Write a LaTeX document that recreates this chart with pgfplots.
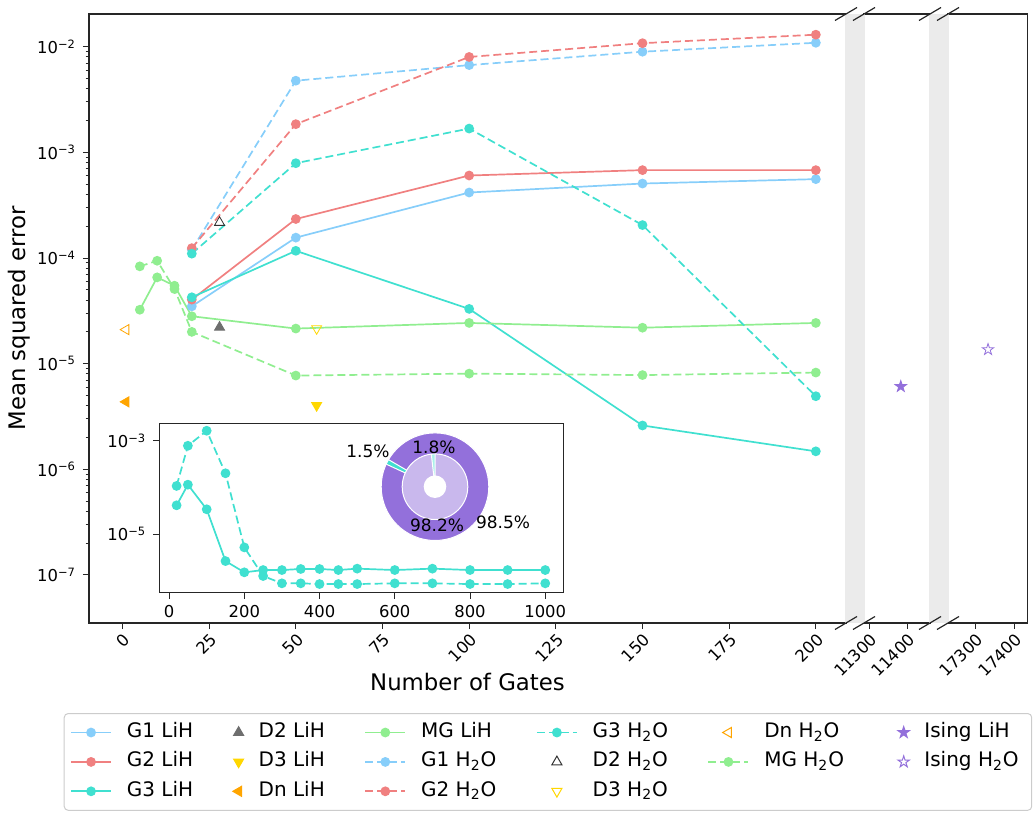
\documentclass[border=0pt]{standalone}
\usepackage{pgfplots}
\pgfplotsset{compat=1.18}
\usepackage{fontspec}
\setmainfont{DejaVu Sans}
\usetikzlibrary{plotmarks}

\definecolor{cG1}{HTML}{87CEFA}
\definecolor{cG2}{HTML}{F08080}
\definecolor{cG3}{HTML}{40E0D0}
\definecolor{cMG}{HTML}{90EE90}
\definecolor{cD2}{HTML}{6E6E6E}
\definecolor{cD2o}{HTML}{333333}
\definecolor{cD3}{HTML}{FFD700}
\definecolor{cDn}{HTML}{FFA500}
\definecolor{cIs}{HTML}{9370DB}
\definecolor{cband}{HTML}{EBEBEB}
\definecolor{legframe}{HTML}{CCCCCC}

\newcommand{\tfont}{\fontsize{8.2}{9.5}\selectfont}
\newcommand{\lfont}{\fontsize{11.4}{13}\selectfont}
\newcommand{\sx}[1]{10\textsuperscript{−#1}}

\newcommand{\starpath}{%
  \pgfpathmoveto{\pgfpointpolar{90}{\pgfplotmarksize}}%
  \pgfpathlineto{\pgfpointpolar{126}{0.382*\pgfplotmarksize}}%
  \pgfpathlineto{\pgfpointpolar{162}{\pgfplotmarksize}}%
  \pgfpathlineto{\pgfpointpolar{198}{0.382*\pgfplotmarksize}}%
  \pgfpathlineto{\pgfpointpolar{234}{\pgfplotmarksize}}%
  \pgfpathlineto{\pgfpointpolar{270}{0.382*\pgfplotmarksize}}%
  \pgfpathlineto{\pgfpointpolar{306}{\pgfplotmarksize}}%
  \pgfpathlineto{\pgfpointpolar{342}{0.382*\pgfplotmarksize}}%
  \pgfpathlineto{\pgfpointpolar{18}{\pgfplotmarksize}}%
  \pgfpathlineto{\pgfpointpolar{54}{0.382*\pgfplotmarksize}}%
  \pgfpathclose}
\pgfdeclareplotmark{fstar}{\starpath\pgfusepathqfillstroke}
\pgfdeclareplotmark{ostar}{\starpath\pgfusepathqstroke}

\pgfplotsset{
  myaxisbase/.style={
    scale only axis,
    tick align=outside, tick pos=left,
    major tick length=3pt, minor tick length=1.7pt,
    axis line style={line width=0.6pt, black!85},
    tick style={black!85, line width=0.5pt},
    ticklabel style={font=\tfont},
    scaled x ticks=false, scaled y ticks=false,
  },
  mygl/.style={line width=0.85pt, mark=*, mark size=2pt},
  mygd/.style={line width=0.85pt, mark=*, mark size=2pt, dash pattern=on 4pt off 2pt, mark options={solid}},
  myimg/.style={legend image code/.code={\draw[mark repeat=2,mark phase=2,##1] plot coordinates {(0pt,0pt) (10pt,0pt) (20pt,0pt)};}},
}

\begin{document}
\begin{tikzpicture}
\path[use as bounding box] (0pt,0pt) rectangle (517.5pt,-406.5pt);

% ---------- segment 1 ----------
\begin{axis}[myaxisbase, name=s1, at={(44.5pt,-311.5pt)}, anchor=south west,
  width=378.5pt, height=304.5pt,
  ymode=log, ymin=3.51e-8, ymax=2.04e-2,
  xmin=-9.66, xmax=208.7,
  xtick={0,25,50,75,100,125,150,175,200},
  xticklabels={0,25,50,75,100,125,150,175,200},
  xticklabel style={rotate=45, anchor=north east, inner sep=1pt},
  ytick={1e-7,1e-6,1e-5,1e-4,1e-3,1e-2},
  yticklabels={\sx{7},\sx{6},\sx{5},\sx{4},\sx{3},\sx{2}},
  xlabel={Number of Gates}, ylabel={Mean squared error},
  every axis x label/.style={at={(axis description cs:0.5,-0.0969)}, anchor=center, font=\lfont},
  every axis y label/.style={at={(axis description cs:-0.0918,0.5)}, rotate=90, anchor=center, font=\lfont},
  myimg,
  legend columns=6, legend cell align=left,
  legend style={at={(0.6063,-0.1478)}, anchor=north,
    draw=legframe, rounded corners=2pt, line width=0.5pt, fill=white,
    font=\fontsize{10}{12}\selectfont,
    inner xsep=3pt, inner ysep=4.8pt, row sep=5.3pt,
    nodes={inner xsep=3.5pt, inner ysep=0pt, text height=7.2pt, text depth=2.2pt},
    /tikz/every odd column/.append style={column sep=4pt},
    /tikz/every even column/.append style={column sep=16.3pt}},
]
% data
\addplot[mygl, color=cG1, forget plot] coordinates {(20,3.49e-5) (50,1.56e-4) (100,4.17e-4) (150,5.07e-4) (200,5.58e-4)};
\addplot[mygl, color=cG2, forget plot] coordinates {(20,4.04e-5) (50,2.34e-4) (100,6.04e-4) (150,6.79e-4) (200,6.79e-4)};
\addplot[mygl, color=cG3, forget plot] coordinates {(20,4.25e-5) (50,1.17e-4) (100,3.30e-5) (150,2.6e-6) (200,1.48e-6)};
\addplot[only marks, forget plot, mark=triangle*, mark size=2.9pt, color=cD2] coordinates {(28,2.21e-5)};
\addplot[only marks, forget plot, mark=triangle*, mark size=2.9pt, mark options={rotate=180}, color=cD3] coordinates {(56,4.02e-6)};
\addplot[only marks, forget plot, mark=triangle*, mark size=2.9pt, mark options={rotate=90}, color=cDn] coordinates {(1,4.35e-6)};
\addplot[mygl, color=cMG, forget plot] coordinates {(5,3.24e-5) (10,6.56e-5) (15,5.47e-5) (20,2.81e-5) (50,2.15e-5) (100,2.43e-5) (150,2.19e-5) (200,2.43e-5)};
\addplot[mygd, color=cG1, forget plot] coordinates {(20,1.2e-4) (50,4.77e-3) (100,6.7e-3) (150,8.97e-3) (200,1.09e-2)};
\addplot[mygd, color=cG2, forget plot] coordinates {(20,1.24e-4) (50,1.85e-3) (100,8.0e-3) (150,1.08e-2) (200,1.30e-2)};
\addplot[mygd, color=cG3, forget plot] coordinates {(20,1.10e-4) (50,7.9e-4) (100,1.68e-3) (150,2.05e-4) (200,4.92e-6)};
\addplot[only marks, forget plot, mark=triangle, mark size=2.9pt, color=cD2o] coordinates {(28,2.17e-4)};
\addplot[only marks, forget plot, mark=triangle, mark size=2.9pt, mark options={rotate=180}, color=cD3] coordinates {(56,2.15e-5)};
\addplot[only marks, forget plot, mark=triangle, mark size=2.9pt, mark options={rotate=90}, color=cDn] coordinates {(1,2.1e-5)};
\addplot[mygd, color=cMG, forget plot] coordinates {(5,8.34e-5) (10,9.42e-5) (15,5.09e-5) (20,2.0e-5) (50,7.72e-6) (100,8.05e-6) (150,7.8e-6) (200,8.24e-6)};
% legend (row-wise order of a column-wise legend)
\addlegendimage{mygl, color=cG1}\addlegendentry{G1 LiH}
\addlegendimage{only marks, mark=triangle*, mark size=2.9pt, color=cD2, myimg}\addlegendentry{D2 LiH}
\addlegendimage{mygl, color=cMG}\addlegendentry{MG LiH}
\addlegendimage{mygd, color=cG3}\addlegendentry{G3 H\textsubscript{2}O}
\addlegendimage{only marks, mark=triangle, mark size=2.9pt, mark options={rotate=90}, color=cDn, myimg}\addlegendentry{Dn H\textsubscript{2}O}
\addlegendimage{only marks, mark=fstar, mark size=3pt, color=cIs, myimg}\addlegendentry{Ising LiH}
\addlegendimage{mygl, color=cG2}\addlegendentry{G2 LiH}
\addlegendimage{only marks, mark=triangle*, mark size=2.9pt, mark options={rotate=180}, color=cD3, myimg}\addlegendentry{D3 LiH}
\addlegendimage{mygd, color=cG1}\addlegendentry{G1 H\textsubscript{2}O}
\addlegendimage{only marks, mark=triangle, mark size=2.9pt, color=cD2o, myimg}\addlegendentry{D2 H\textsubscript{2}O}
\addlegendimage{mygd, color=cMG}\addlegendentry{MG H\textsubscript{2}O}
\addlegendimage{only marks, mark=ostar, mark size=3pt, color=cIs, myimg}\addlegendentry{Ising H\textsubscript{2}O}
\addlegendimage{mygl, color=cG3}\addlegendentry{G3 LiH}
\addlegendimage{only marks, mark=triangle*, mark size=2.9pt, mark options={rotate=90}, color=cDn, myimg}\addlegendentry{Dn LiH}
\addlegendimage{mygd, color=cG2}\addlegendentry{G2 H\textsubscript{2}O}
\addlegendimage{only marks, mark=triangle, mark size=2.9pt, mark options={rotate=180}, color=cD3, myimg}\addlegendentry{D3 H\textsubscript{2}O}
\addlegendimage{empty legend}\addlegendentry{}
\addlegendimage{empty legend}\addlegendentry{}
\end{axis}

% ---------- segment 2 ----------
\begin{axis}[myaxisbase, name=s2, at={(432pt,-311.5pt)}, anchor=south west,
  width=33pt, height=304.5pt,
  ymode=log, ymin=3.51e-8, ymax=2.04e-2,
  xmin=11286, xmax=11460,
  xtick={11300,11400}, xticklabels={11300,11400},
  xticklabel style={rotate=45, anchor=north east, inner sep=1pt},
  ytick=\empty, yminorticks=false]
\addplot[only marks, mark=fstar, mark size=3pt, color=cIs] coordinates {(11383,6.08e-6)};
\end{axis}

% ---------- segment 3 ----------
\begin{axis}[myaxisbase, name=s3, at={(474pt,-311.5pt)}, anchor=south west,
  width=39.65pt, height=304.5pt,
  ymode=log, ymin=3.51e-8, ymax=2.04e-2,
  xmin=17230, xmax=17434,
  xtick={17300,17400}, xticklabels={17300,17400},
  xticklabel style={rotate=45, anchor=north east, inner sep=1pt},
  ytick=\empty, yminorticks=false]
\addplot[only marks, mark=ostar, mark size=3pt, color=cIs] coordinates {(17333,1.36e-5)};
\end{axis}

% ---------- gaps and break marks ----------
\fill[cband] (422.6pt,-7pt) rectangle (432.4pt,-311.5pt);
\fill[cband] (464.6pt,-7pt) rectangle (474.4pt,-311.5pt);
\foreach \cx in {423,432,465,474}{
  \draw[black!85, line width=0.6pt] (\cx pt-5.5pt,-7pt-3.25pt) -- (\cx pt+5.5pt,-7pt+3.25pt);
  \draw[black!85, line width=0.6pt] (\cx pt-5.5pt,-311.5pt-3.25pt) -- (\cx pt+5.5pt,-311.5pt+3.25pt);
}

% ---------- inset ----------
\begin{axis}[myaxisbase, name=ins, at={(79.65pt,-296.35pt)}, anchor=south west,
  width=202pt, height=84.7pt,
  ymode=log, xmin=-26, xmax=1048, ymin=5.47e-7, ymax=2.4e-3,
  xtick={0,200,400,600,800,1000}, xticklabels={0,200,400,600,800,1000},
  ytick={1e-3,1e-5}, yticklabels={\sx{3},\sx{5}}, yminorticks=false,
  axis background/.style={fill=white}]
\addplot[mygl, color=cG3] coordinates {(20,4.14e-5) (50,1.15e-4) (100,3.4e-5) (150,2.62e-6) (200,1.5e-6) (250,1.68e-6) (300,1.68e-6) (350,1.77e-6) (400,1.77e-6) (450,1.68e-6) (500,1.8e-6) (600,1.68e-6) (700,1.8e-6) (800,1.68e-6) (900,1.68e-6) (1000,1.68e-6)};
\addplot[mygd, color=cG3] coordinates {(20,1.08e-4) (50,7.9e-4) (100,1.66e-3) (150,2.02e-4) (200,5.16e-6) (250,1.25e-6) (300,8.7e-7) (350,8.7e-7) (400,8.4e-7) (450,8.4e-7) (500,8.4e-7) (600,8.7e-7) (700,8.7e-7) (800,8.4e-7) (900,8.4e-7) (1000,8.7e-7)};
\end{axis}

% ---------- donut ----------
\def\pOut{1.5}\def\pIn{1.8}
\pgfmathsetmacro{\aOs}{149.8}\pgfmathsetmacro{\aOe}{\aOs+3.6*\pOut}
\pgfmathsetmacro{\aIs}{90}\pgfmathsetmacro{\aIe}{\aIs+3.6*\pIn}
\begin{scope}[shift={(217.5pt,-243.35pt)}]
  \fill[cIs] (0,0) circle (26.9pt);
  \fill[cG3] (\aOs:16.4pt) -- (\aOs:26.9pt) arc (\aOs:\aOe:26.9pt) -- (\aOe:16.4pt) arc (\aOe:\aOs:16.4pt) -- cycle;
  \draw[white, line width=0.5pt] (\aOs:16.4pt) -- (\aOs:26.9pt) (\aOe:16.4pt) -- (\aOe:26.9pt);
  \draw[white, line width=0.5pt] (0,0) circle (26.9pt);
  \fill[cIs!50!white] (0,0) circle (16.4pt);
  \fill[cG3!45!white] (0,0) -- (\aIs:16.4pt) arc (\aIs:\aIe:16.4pt) -- cycle;
  \draw[white, line width=0.5pt] (0,0) -- (\aIs:16.4pt) (0,0) -- (\aIe:16.4pt);
  \draw[white, line width=0.5pt] (0,0) circle (16.4pt);
  \fill[white] (0,0) circle (5.65pt);
\end{scope}
\node[font=\fontsize{8.5}{10}\selectfont] at (184pt,-225.85pt) {1.5\%};
\node[font=\fontsize{8.5}{10}\selectfont] at (217pt,-223.85pt) {1.8\%};
\node[font=\fontsize{8.5}{10}\selectfont] at (218.5pt,-262.5pt) {98.2\%};
\node[font=\fontsize{8.5}{10}\selectfont] at (251.5pt,-261pt) {98.5\%};
\end{tikzpicture}
\end{document}
